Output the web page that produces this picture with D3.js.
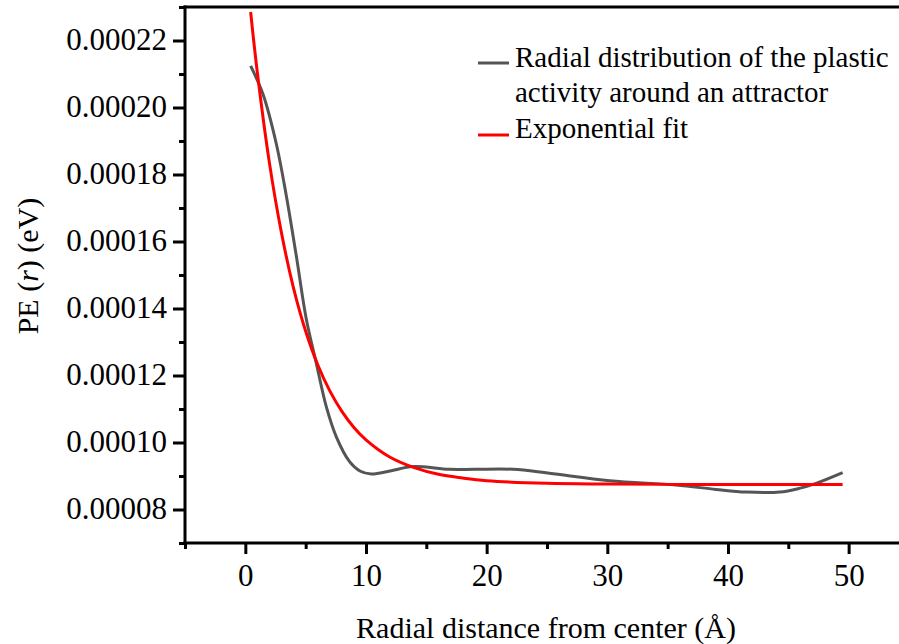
<!DOCTYPE html>
<html><head><meta charset="utf-8">
<script src="https://cdn.jsdelivr.net/npm/d3@7"></script>
<style>
html,body{margin:0;padding:0;background:#fff;}
svg{display:block;}
svg text{font-family:"Liberation Serif","Times New Roman",serif;fill:#000;}
</style></head>
<body>
<svg id="chart" width="899" height="644"></svg>
<script>
// ---- data ----
const rawX = [0.44, 1.46, 2.57, 3.4, 4.23, 5.06, 5.88, 6.71, 7.54, 8.64, 9.5, 10.44, 12, 13.9, 16.9, 19, 22.2, 25.2, 30.2, 35.7, 39.0, 41.5, 44.3, 45.9, 47.3, 49.5];
const rawY = [0.0002124, 0.000204, 0.0001891, 0.0001736, 0.0001556, 0.0001367, 0.0001237, 0.0001107, 0.0001017, 0.0000943, 0.0000915, 0.0000906, 0.0000915, 0.0000928, 0.0000920, 0.0000920, 0.0000920, 0.0000908, 0.0000886, 0.0000873, 0.0000860, 0.0000852, 0.0000852, 0.0000863, 0.0000878, 0.0000910];
const fitX = [0.44, 1, 2, 3, 4, 5, 6, 7, 8, 9, 10, 12, 14, 16, 18, 20, 25, 30, 35, 40, 45, 49.5];
const fitY = [0.0002285, 0.0002103, 0.0001834, 0.0001625, 0.000146, 0.0001332, 0.0001232, 0.0001154, 0.0001093, 0.0001045, 0.0001008, 0.0000956, 0.0000925, 0.0000905, 0.0000894, 0.0000886, 0.0000878, 0.0000876, 0.0000875, 0.0000875, 0.0000875, 0.0000875];
const xMajor = [0, 10, 20, 30, 40, 50];
const xMinor = [-5, 5, 15, 25, 35, 45, 55];
const yMajor = [0.00008, 0.0001, 0.00012, 0.00014, 0.00016, 0.00018, 0.0002, 0.00022];
const yMinor = [0.00007, 0.00009, 0.00011, 0.00013, 0.00015, 0.00017, 0.00019, 0.00021, 0.00023];
const seriesNames = ["Radial distribution of the plastic", "activity around an attractor", "Exponential fit"];
const xTitle = "Radial distance from center (Å)";

const FONT = "'Liberation Serif','Times New Roman',serif";
const svg = d3.select("#chart");
const L = 185, T = 7, B = 543;
const x = d3.scaleLinear().domain([-5, 55]).range([L, L + 60 * 12.066]);
const y = d3.scaleLinear().domain([0.00007, 0.00023]).range([B, T]);

svg.append("clipPath").attr("id", "clip").append("rect")
  .attr("x", L).attr("y", T).attr("width", 899 - L).attr("height", B - T);

// top frame
svg.append("line").attr("x1", L - 1.5).attr("x2", 899).attr("y1", T).attr("y2", T)
  .attr("stroke", "#000").attr("stroke-width", 3);

// x axis
const gx = svg.append("g").attr("transform", `translate(0,${B})`);
gx.call(d3.axisBottom(x).tickValues(xMajor).tickSize(11).tickSizeOuter(0).tickFormat(d3.format("d")));
gx.append("g").call(d3.axisBottom(x).tickValues(xMinor).tickSize(6).tickSizeOuter(0).tickFormat(""))
  .select(".domain").remove();
gx.attr("font-family", FONT);
gx.selectAll(".domain").attr("d", `M${L - 1.5},0H${x(55)}`).attr("stroke-width", 3);
gx.selectAll(".tick line").attr("stroke-width", 3);
gx.selectAll(".tick text").attr("font-size", 31).attr("font-family", FONT).attr("y", 43).attr("dy", 0);

// y axis
const gy = svg.append("g").attr("transform", `translate(${L},0)`);
gy.call(d3.axisLeft(y).tickValues(yMajor).tickSize(12).tickSizeOuter(0).tickFormat(d3.format(".5f")));
gy.append("g").call(d3.axisLeft(y).tickValues(yMinor).tickSize(6).tickSizeOuter(0).tickFormat(""))
  .select(".domain").remove();
gy.attr("font-family", FONT);
gy.selectAll(".domain").attr("d", `M0,${T - 1.5}V${B + 1.5}`).attr("stroke-width", 3);
gy.selectAll(".tick line").attr("stroke-width", 3);
gy.selectAll(".tick text").attr("font-size", 31).attr("font-family", FONT).attr("x", -18).attr("dy", 9);

// lines
const plot = svg.append("g").attr("clip-path", "url(#clip)");
const line = d3.line().x(d => x(d[0])).y(d => y(d[1])).curve(d3.curveCatmullRom.alpha(0.5));
plot.append("path").datum(rawX.map((v, i) => [v, rawY[i]]))
  .attr("d", line).attr("fill", "none").attr("stroke", "#555").attr("stroke-width", 3);
plot.append("path").datum(fitX.map((v, i) => [v, fitY[i]]))
  .attr("d", line).attr("fill", "none").attr("stroke", "#ff0000").attr("stroke-width", 3);

// legend
const lg = svg.append("g").attr("font-family", FONT);
lg.append("line").attr("x1", 478).attr("x2", 509).attr("y1", 63).attr("y2", 63).attr("stroke", "#555").attr("stroke-width", 3);
lg.append("line").attr("x1", 478).attr("x2", 509).attr("y1", 135).attr("y2", 135).attr("stroke", "#ff0000").attr("stroke-width", 3);
lg.append("text").attr("x", 515).attr("y", 67).attr("font-size", 29).text(seriesNames[0]);
lg.append("text").attr("x", 515).attr("y", 102).attr("font-size", 29).text(seriesNames[1]);
lg.append("text").attr("x", 515).attr("y", 138).attr("font-size", 29).text(seriesNames[2]);

// axis titles
svg.append("text").attr("x", 546).attr("y", 638).attr("text-anchor", "middle").attr("font-size", 30)
  .attr("font-family", FONT).text(xTitle);
const yt = svg.append("text").attr("transform", "translate(38,266) rotate(-90)").attr("text-anchor", "middle")
  .attr("font-size", 30).attr("font-family", FONT);
yt.append("tspan").text("PE (");
yt.append("tspan").attr("font-style", "italic").text("r");
yt.append("tspan").text(") (eV)");
</script>
</body></html>
